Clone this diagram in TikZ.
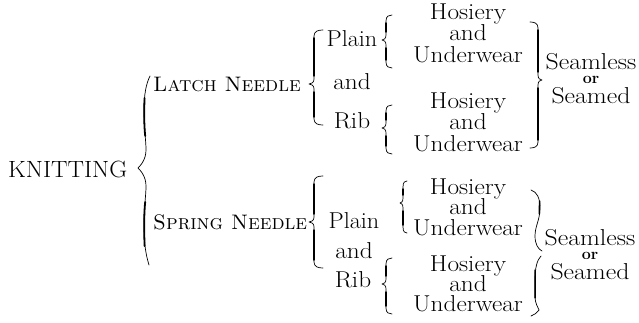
\documentclass[tikz,border=0pt]{standalone}
\usepackage{fontspec}
\usepackage{graphicx}
\lineskiplimit=-50pt
\newcommand\widetext[1]{\scalebox{1.1}[1]{#1}}
\newcommand\slimtext[1]{\scalebox{1.05}[1]{#1}}
\newcommand\widertext[1]{\scalebox{1.12}[1]{#1}}
\newcommand\ortext{{\bfseries\fontsize{16}{16}\selectfont or}}
\newcommand\bracepath[7]{% #1 style, #2 tip x, #3 vertical x, #4 hook x, #5 top y, #6 mid y, #7 bottom y
  \draw[brthin] (#4,#5) .. controls ({(#3+#4)/2},#5) and (#3,{#5+1}) .. (#3,{#5+6})
    -- (#3,{#6-5}) .. controls (#3,{#6-1.5}) and ({(#2+#3)/2},#6) .. (#2,#6)
    .. controls ({(#2+#3)/2},#6) and (#3,{#6+1.5}) .. (#3,{#6+5})
    -- (#3,{#7-6}) .. controls (#3,{#7-1}) and ({(#3+#4)/2},#7) .. (#4,#7);
  \draw[brthick] (#3,{#5+8}) -- (#3,{#6-8}) (#3,{#6+8}) -- (#3,{#7-8});
}
\begin{document}
\lineskiplimit=-50pt
\begin{tikzpicture}[x=1pt,y=-1pt,
  txt/.style={inner sep=0pt, anchor=base, font=\fontsize{23}{23}\selectfont},
  grp/.style={inner sep=0pt, anchor=north, align=center},
  sctxt/.style={inner sep=0pt, anchor=base west, font=\fontsize{21}{21}\selectfont\scshape},
  brthin/.style={line width=0.7pt, line cap=round, line join=round},
  brthick/.style={line width=1.5pt, line cap=round}]
\useasboundingbox[fill=white] (0,0) rectangle (639,323);

% first level
\node[txt, anchor=base west, font=\fontsize{23.5}{23.5}\selectfont] (knit) at (8,177) {\slimtext{KNITTING}};
\node[sctxt] (latch) at (153,92) {Latch Needle};
\node[sctxt] (spring) at (153,229) {Spring Needle};

% big brace
\draw[brthin] (150,76) .. controls (146,84) and (144,95) .. (144,110)
  .. controls (144,130) and (146,140) .. (146,150)
  .. controls (146,160) and (140,166) .. (138,168)
  .. controls (140,170) and (146,176) .. (146,186)
  .. controls (146,196) and (144,206) .. (144,225)
  .. controls (144,245) and (146,255) .. (149,265);
\draw[line width=1.8pt, line cap=round] (144.6,98) .. controls (144,110) and (144,125) .. (145.2,136);
\draw[line width=1.8pt, line cap=round] (145.2,202) .. controls (144,212) and (144,230) .. (144.6,246);

% second level
\node[txt] (plainA) at (352,47) {\slimtext{Plain}};
\node[txt] (andA) at (352,90) {\widetext{and}};
\node[txt] (ribA) at (352,129) {\widetext{Rib}};
\node[txt] (plainB) at (354,228) {\slimtext{Plain}};
\node[txt] (andB) at (354,258) {\widetext{and}};
\node[txt] (ribB) at (353,287) {\widetext{Rib}};
\bracepath{}{309}{314}{323}{30}{84}{125}
\bracepath{}{309}{314}{323}{176}{222}{268}

% third level (first baselines at 19, 108, 194, 271; cap height 15.7)
\node[grp, font=\fontsize{23}{21.5}\selectfont] (hosA) at (468,3.3) {\widetext{Hosiery}\\\widetext{and}\\\widetext{Underwear}};
\node[grp, font=\fontsize{23}{21.5}\selectfont] (hosB) at (468,92.3) {\widetext{Hosiery}\\\widetext{and}\\\widetext{Underwear}};
\node[grp, font=\fontsize{23}{20.5}\selectfont] (hosC) at (468,178.3) {\widetext{Hosiery}\\\widetext{and}\\\widetext{Underwear}};
\node[grp, font=\fontsize{23}{20}\selectfont] (hosD) at (468,255.3) {\widetext{Hosiery}\\\widetext{and}\\\widetext{Underwear}};
\bracepath{}{382}{386}{392}{15}{40}{68}
\bracepath{}{382}{386}{392}{105}{128}{154}
\bracepath{}{400}{403}{407}{181}{203}{233}
\bracepath{}{382}{386}{392}{258}{284}{314}

% right braces
\bracepath{}{542}{538}{530}{22}{80}{148}
\draw[brthin] (531,190) .. controls (537,192) and (540,198) .. (540,208)
  .. controls (540,220) and (535,226) .. (535,236)
  .. controls (535,244) and (538,249) .. (542,251);
\draw[brthin] (541,256) .. controls (537,260) and (535,268) .. (535,280)
  -- (535,296) .. controls (535,304) and (538,307) .. (539,310)
  .. controls (537,313) and (534,315) .. (531,316);
\draw[brthick] (539.6,201) -- (539.3,214) (535.2,270) -- (535.2,298);

% fourth level (first baselines at 69 and 245; ascender height 16)
\node[grp, font=\fontsize{23}{14}\selectfont] (seamA) at (591,53) {\widertext{Seamless}\\\ortext\\[6pt]\widertext{Seamed}};
\node[grp, font=\fontsize{23}{14}\selectfont] (seamB) at (590,229) {\widertext{Seamless}\\\ortext\\[6pt]\widertext{Seamed}};
\end{tikzpicture}
\end{document}
